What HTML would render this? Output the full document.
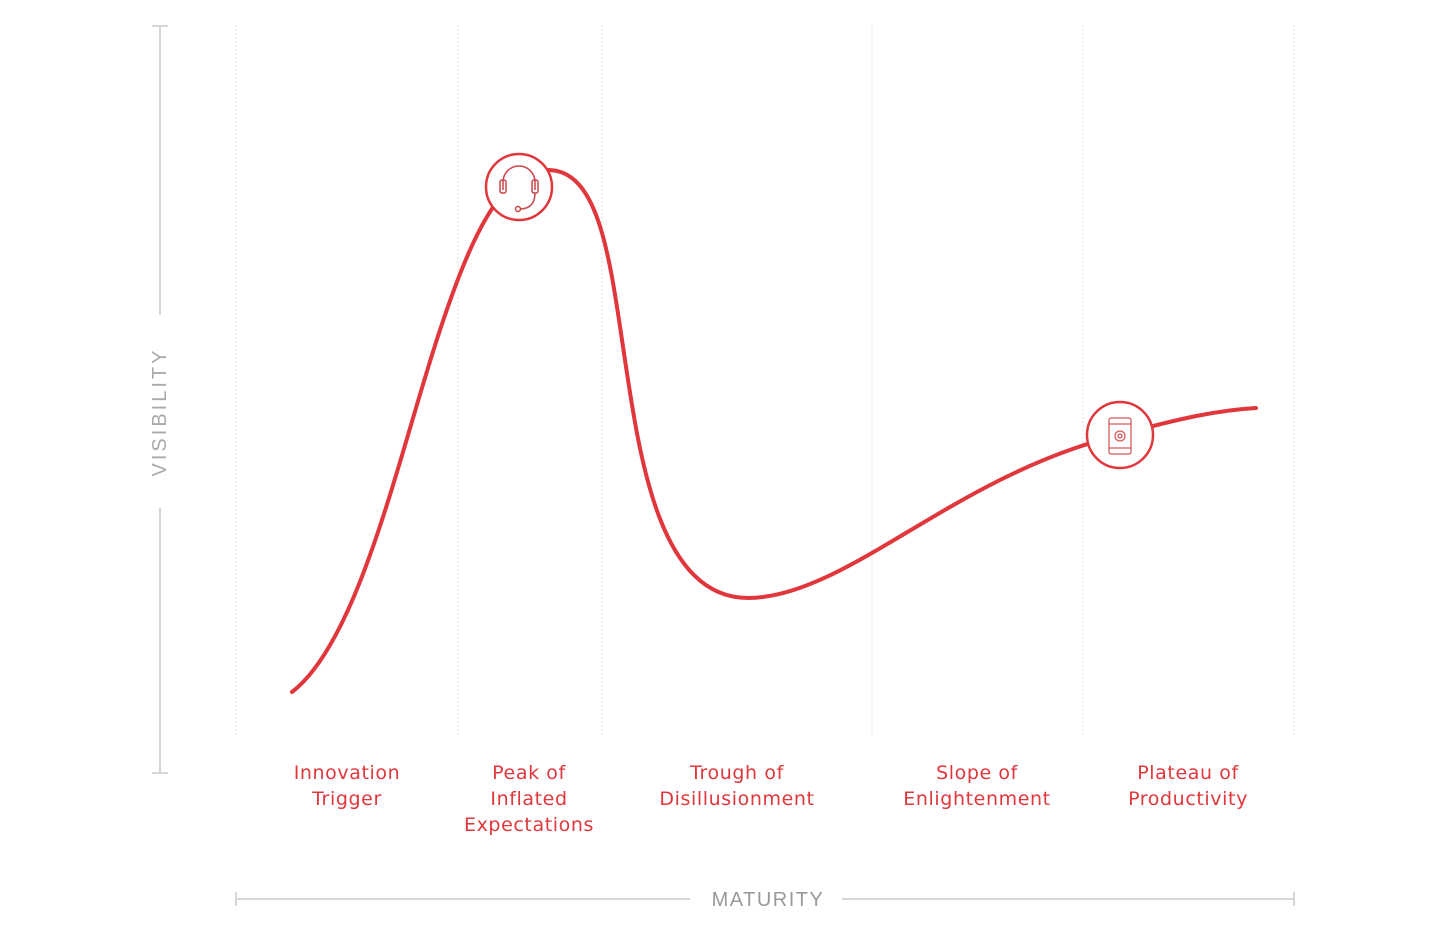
<!DOCTYPE html>
<html><head><style>
html,body{margin:0;padding:0;background:#fff;}
svg{display:block}
.l{font-family:"DejaVu Sans",sans-serif;font-size:19px;fill:#e0373c;text-anchor:middle;letter-spacing:0.6px}
</style></head><body>
<svg width="1440" height="942" viewBox="0 0 1440 942">
<g stroke="#e6e6e6" stroke-width="1.2" stroke-dasharray="2,2">
<line x1="236" y1="25" x2="236" y2="735"/>
<line x1="458" y1="25" x2="458" y2="735"/>
<line x1="602" y1="25" x2="602" y2="735"/>
<line x1="872" y1="25" x2="872" y2="735"/>
<line x1="1083" y1="25" x2="1083" y2="735"/>
<line x1="1294" y1="25" x2="1294" y2="735"/>
</g>
<g stroke="#d6d6d6" stroke-width="2">
<line x1="160" y1="26" x2="160" y2="315"/>
<line x1="160" y1="508" x2="160" y2="773"/>
<line x1="152" y1="26" x2="168" y2="26"/>
<line x1="152" y1="773" x2="168" y2="773"/>
<line x1="236" y1="899" x2="690" y2="899"/>
<line x1="842" y1="899" x2="1294" y2="899"/>
<line x1="236" y1="892" x2="236" y2="906"/>
<line x1="1294" y1="892" x2="1294" y2="906"/>
</g>
<text x="166" y="412" transform="rotate(-90 166 412)" text-anchor="middle" font-family="Liberation Sans,sans-serif" font-size="20" fill="#aaa" letter-spacing="3">VISIBILITY</text>
<text x="768" y="906" text-anchor="middle" font-family="Liberation Sans,sans-serif" font-size="20" fill="#999" letter-spacing="1.5">MATURITY</text>
<path d="M292,692 C360,640 400,450 440,330 C470,240 500,170 548,170 C600,170 610,260 625,360 C640,460 660,598 748,598 C820,598 900,530 1000,480 C1060,450 1100,440 1120,435 C1180,418 1220,410 1256,408" fill="none" stroke="#e0373c" stroke-width="4" stroke-linecap="round"/>
<circle cx="519" cy="187" r="33" fill="#fff" stroke="#e0373c" stroke-width="2.5"/>
<g fill="none" stroke="#c8454a" stroke-width="1.5">
<path d="M503,190 v-8 a16,16 0 0 1 32,0 v8"/>
<rect x="500" y="180" width="6" height="13" rx="2"/>
<rect x="532" y="180" width="6" height="13" rx="2"/>
<path d="M535,193 q0,15 -14,16"/>
<circle cx="518" cy="209" r="2.5"/>
</g>
<circle cx="1120" cy="435" r="33" fill="#fff" stroke="#e0373c" stroke-width="2.5"/>
<g fill="none" stroke="#d05a5e" stroke-width="1.3">
<rect x="1109" y="418" width="22" height="36" rx="2"/>
<line x1="1109" y1="424" x2="1131" y2="424"/>
<line x1="1109" y1="448" x2="1131" y2="448"/>
<circle cx="1120" cy="436" r="5"/>
<circle cx="1120" cy="436" r="2"/>
</g>
<text class="l" x="347" y="779">Innovation</text>
<text class="l" x="347" y="805">Trigger</text>
<text class="l" x="529" y="779">Peak of</text>
<text class="l" x="529" y="805">Inflated</text>
<text class="l" x="529" y="831">Expectations</text>
<text class="l" x="737" y="779">Trough of</text>
<text class="l" x="737" y="805">Disillusionment</text>
<text class="l" x="977" y="779">Slope of</text>
<text class="l" x="977" y="805">Enlightenment</text>
<text class="l" x="1188" y="779">Plateau of</text>
<text class="l" x="1188" y="805">Productivity</text>
</svg>
</body></html>
